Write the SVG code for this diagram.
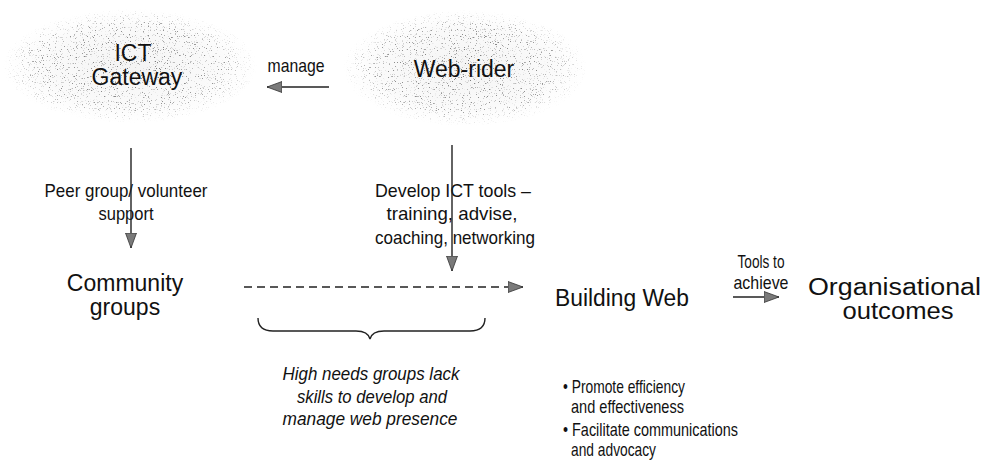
<svg xmlns="http://www.w3.org/2000/svg" width="987" height="472" viewBox="0 0 987 472">
<style>
  .lbl { font-family: "Liberation Sans", Arial, sans-serif; fill: #111; }
  .big { font-size: 23px; }
  .sm { font-size: 19px; }
  .it { font-style: italic; }
  .mid { text-anchor: middle; }
  .edge { stroke: #222; stroke-width: 1.4; fill: none; }
</style>
<defs>
  <marker id="arrow" viewBox="0 0 15 12" refX="15" refY="6" markerWidth="15" markerHeight="12" markerUnits="userSpaceOnUse" orient="auto">
    <path d="M0,0.5 L15,6 L0,11.5 Z" fill="#7a7a7a" stroke="#333" stroke-width="0.8"/>
  </marker>
  <radialGradient id="haze" cx="50%" cy="50%" r="50%">
    <stop offset="0%" stop-color="#efefef" stop-opacity="0.7"/>
    <stop offset="70%" stop-color="#f2f2f2" stop-opacity="0.4"/>
    <stop offset="100%" stop-color="#f8f8f8" stop-opacity="0"/>
  </radialGradient>
  <radialGradient id="dotmask" cx="50%" cy="50%" r="50%">
    <stop offset="0%" stop-color="#000" stop-opacity="1"/>
    <stop offset="75%" stop-color="#000" stop-opacity="0.75"/>
    <stop offset="100%" stop-color="#000" stop-opacity="0"/>
  </radialGradient>
  <filter id="speckle" x="0" y="0" width="100%" height="100%" color-interpolation-filters="sRGB">
    <feTurbulence type="fractalNoise" baseFrequency="0.85" numOctaves="2" seed="7" result="noise"/>
    <feColorMatrix in="noise" type="matrix" values="0 0 0 0 0.45  0 0 0 0 0.45  0 0 0 0 0.45  -7 0 0 0 2.6" result="dots"/>
    <feComposite in="dots" in2="SourceGraphic" operator="in"/>
  </filter>
</defs>
<rect width="987" height="472" fill="#fff"/>

<g id="ict-gateway">
  <ellipse cx="130" cy="66" rx="127" ry="57" fill="url(#haze)"/>
  <ellipse cx="130" cy="66" rx="127" ry="57" fill="url(#dotmask)" filter="url(#speckle)"/>
  <text class="lbl big mid" x="133" y="61">ICT</text>
  <text class="lbl big mid" x="137" y="85">Gateway</text>
</g>

<g id="web-rider">
  <ellipse cx="465" cy="68" rx="122" ry="58" fill="url(#haze)"/>
  <ellipse cx="465" cy="68" rx="122" ry="58" fill="url(#dotmask)" filter="url(#speckle)"/>
  <text class="lbl big mid" x="464" y="77">Web-rider</text>
</g>

<g id="community-groups">
  <text class="lbl big mid" x="125" y="291">Community</text>
  <text class="lbl big mid" x="125" y="315">groups</text>
</g>

<g id="building-web">
  <text class="lbl big" x="555" y="306" textLength="134" lengthAdjust="spacingAndGlyphs">Building Web</text>
  <text class="lbl sm" x="563" y="393" textLength="122" lengthAdjust="spacingAndGlyphs">• Promote efficiency</text>
  <text class="lbl sm" x="571" y="413" textLength="113" lengthAdjust="spacingAndGlyphs">and effectiveness</text>
  <text class="lbl sm" x="563" y="436" textLength="175" lengthAdjust="spacingAndGlyphs">• Facilitate communications</text>
  <text class="lbl sm" x="571" y="456" textLength="85" lengthAdjust="spacingAndGlyphs">and advocacy</text>
</g>

<g id="organisational-outcomes">
  <text class="lbl big" x="808" y="295" textLength="173" lengthAdjust="spacingAndGlyphs">Organisational</text>
  <text class="lbl big mid" x="898" y="319" textLength="111" lengthAdjust="spacingAndGlyphs">outcomes</text>
</g>

<g id="skills-gap">
  <path class="edge" d="M258,318 Q258,331 273,331 L356,331 Q368,331 370,339 Q372,331 384,331 L470,331 Q485,331 485,318" stroke-width="1.6"/>
  <text class="lbl sm it mid" x="371" y="380" textLength="177" lengthAdjust="spacingAndGlyphs">High needs groups lack</text>
  <text class="lbl sm it mid" x="372" y="403" textLength="150" lengthAdjust="spacingAndGlyphs">skills to develop and</text>
  <text class="lbl sm it mid" x="370" y="425" textLength="175" lengthAdjust="spacingAndGlyphs">manage web presence</text>
</g>

<g id="connectors">
  <text class="lbl sm mid" x="296" y="72" textLength="57" lengthAdjust="spacingAndGlyphs">manage</text>
  <text class="lbl sm mid" x="126" y="197" textLength="163" lengthAdjust="spacingAndGlyphs">Peer group/ volunteer</text>
  <text class="lbl sm mid" x="126" y="220" textLength="55" lengthAdjust="spacingAndGlyphs">support</text>
  <text class="lbl sm mid" x="453" y="197" textLength="156" lengthAdjust="spacingAndGlyphs">Develop ICT tools –</text>
  <text class="lbl sm mid" x="452" y="220" textLength="131" lengthAdjust="spacingAndGlyphs">training, advise,</text>
  <text class="lbl sm mid" x="455" y="244" textLength="160" lengthAdjust="spacingAndGlyphs">coaching, networking</text>
  <text class="lbl sm mid" x="761" y="268" textLength="47" lengthAdjust="spacingAndGlyphs">Tools to</text>
  <text class="lbl sm mid" x="761" y="289" textLength="55" lengthAdjust="spacingAndGlyphs">achieve</text>

  <line class="edge" x1="329" y1="87" x2="267" y2="87" marker-end="url(#arrow)"/>
  <line class="edge" x1="131" y1="148" x2="131" y2="248" marker-end="url(#arrow)"/>
  <line class="edge" x1="452" y1="145" x2="452" y2="271" marker-end="url(#arrow)"/>
  <line class="edge" x1="244" y1="287" x2="523" y2="287" stroke-dasharray="8 5" marker-end="url(#arrow)"/>
  <line class="edge" x1="733" y1="297" x2="779" y2="297" marker-end="url(#arrow)"/>
</g>
</svg>
